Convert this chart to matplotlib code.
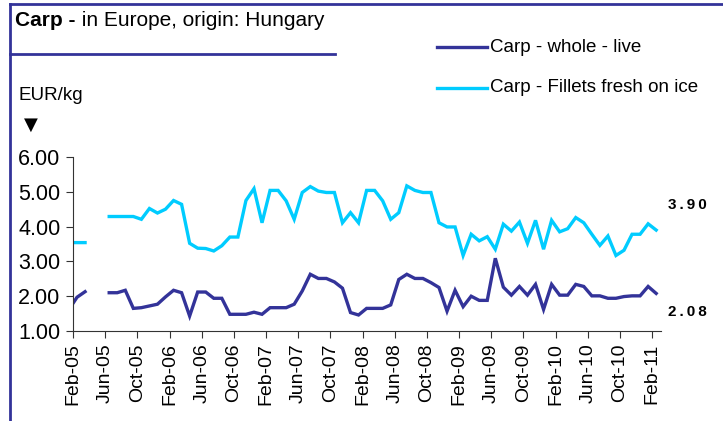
import numpy as np
import matplotlib
matplotlib.use("Agg")
import matplotlib.pyplot as plt
from matplotlib.lines import Line2D

plt.rcParams['font.family'] = ['Liberation Sans Narrow', 'Liberation Sans', 'DejaVu Sans']

# monthly prices, Jan-05 .. Feb-11 (Apr-05, May-05 missing)
whole_live = [1.62, 1.97, 2.13, None, None,
              2.10, 2.10, 2.17, 1.65, 1.67, 1.72, 1.77, 1.98,
              2.17, 2.10, 1.43, 2.12, 2.12, 1.94, 1.94, 1.48, 1.48, 1.48, 1.54, 1.48,
              1.67, 1.67, 1.67, 1.77, 2.15, 2.63, 2.51, 2.51, 2.41, 2.23, 1.53, 1.46,
              1.65, 1.65, 1.65, 1.75, 2.48, 2.63, 2.51, 2.51, 2.39, 2.25, 1.57, 2.17,
              1.70, 2.00, 1.88, 1.88, 3.09, 2.26, 2.03, 2.28, 2.03, 2.34, 1.62, 2.34,
              2.03, 2.03, 2.34, 2.28, 2.01, 2.01, 1.94, 1.94, 1.99, 2.01, 2.01, 2.28,
              2.08]
fillets = [3.54, 3.54, 3.54, None, None,
           4.29, 4.29, 4.29, 4.29, 4.21, 4.52, 4.39, 4.50,
           4.75, 4.64, 3.52, 3.38, 3.37, 3.30, 3.45, 3.70, 3.70, 4.75, 5.09, 4.11,
           5.04, 5.04, 4.74, 4.21, 4.98, 5.15, 5.02, 4.98, 4.98, 4.11, 4.40, 4.11,
           5.04, 5.04, 4.74, 4.21, 4.40, 5.17, 5.04, 4.98, 4.98, 4.11, 3.99, 3.99,
           3.17, 3.78, 3.59, 3.71, 3.35, 4.07, 3.87, 4.13, 3.52, 4.18, 3.35, 4.18,
           3.85, 3.94, 4.26, 4.11, 3.78, 3.46, 3.73, 3.17, 3.32, 3.78, 3.78, 4.08,
           3.90]
tick_labels = ['Feb-05', 'Jun-05', 'Oct-05', 'Feb-06', 'Jun-06', 'Oct-06', 'Feb-07',
               'Jun-07', 'Oct-07', 'Feb-08', 'Jun-08', 'Oct-08', 'Feb-09', 'Jun-09',
               'Oct-09', 'Feb-10', 'Jun-10', 'Oct-10', 'Feb-11']

dark = '#333399'
light = '#00CCFF'

x = np.arange(-1, len(whole_live) - 1)
y1 = np.array([np.nan if v is None else v for v in whole_live])
y2 = np.array([np.nan if v is None else v for v in fillets])

fig = plt.figure(figsize=(7.23, 4.21), dpi=100)
ax = fig.add_axes([73 / 723, 1 - 331 / 421, 588 / 723, 174 / 421])

ax.plot(x, y1, color=dark, lw=2.4, solid_joinstyle='miter')
ax.plot(x, y2, color=light, lw=2.4, solid_joinstyle='miter')

ax.set_xlim(-0.5, 72.6)
ax.set_ylim(1, 6)
ax.set_yticks(np.arange(1, 7))
ax.set_yticklabels(['%.2f' % v for v in range(1, 7)], fontsize=15.5)
ax.set_xticks(np.arange(len(tick_labels)) * 4 - 0.5)
ax.set_xticklabels(tick_labels, rotation=90, fontsize=14)
ax.tick_params(axis='both', direction='out', length=5, color='#333333', pad=4)
for s in ['top', 'right']:
    ax.spines[s].set_visible(False)
for s in ['left', 'bottom']:
    ax.spines[s].set_color('#333333')

# end labels
end_font = ['Liberation Sans', 'DejaVu Sans']
fig.text(668 / 723, 1 - 205 / 421, '\u2009'.join('3.90'), fontsize=11, fontweight='bold',
         va='center', family=end_font)
fig.text(668 / 723, 1 - 312 / 421, '\u2009'.join('2.08'), fontsize=11, fontweight='bold',
         va='center', family=end_font)

# title and frame
t1 = fig.text(15 / 723, 1 - 21 / 421, 'Carp -', fontsize=15, fontweight='bold', va='center')
ax.annotate(' in Europe, origin: Hungary', xy=(1, 0.5), xycoords=t1, va='center',
            ha='left', fontsize=15, annotation_clip=False)

fig.add_artist(Line2D([10 / 723, 1], [1 - 4 / 421, 1 - 4 / 421], color=dark, lw=2))
fig.add_artist(Line2D([10 / 723, 10 / 723], [0, 1 - 4 / 421], color=dark, lw=2))
fig.add_artist(Line2D([10 / 723, 335 / 723], [1 - 54 / 421, 1 - 54 / 421], color=dark, lw=2))

fig.text(18 / 723, 1 - 95 / 421, 'EUR/kg', fontsize=13.5, va='center')
fig.text(24 / 723, 1 - 125 / 421, '▼', fontsize=13, va='center', family='DejaVu Sans')

# legend
fig.add_artist(Line2D([437 / 723, 487 / 723], [1 - 47 / 421, 1 - 47 / 421], color=dark, lw=2.4))
fig.add_artist(Line2D([437 / 723, 487 / 723], [1 - 88 / 421, 1 - 88 / 421], color=light, lw=2.4))
fig.text(490 / 723, 1 - 47 / 421, 'Carp - whole - live', fontsize=13.5, va='center')
fig.text(490 / 723, 1 - 88 / 421, 'Carp - Fillets fresh on ice', fontsize=13.5, va='center')

fig.savefig('out.png', dpi=100)
